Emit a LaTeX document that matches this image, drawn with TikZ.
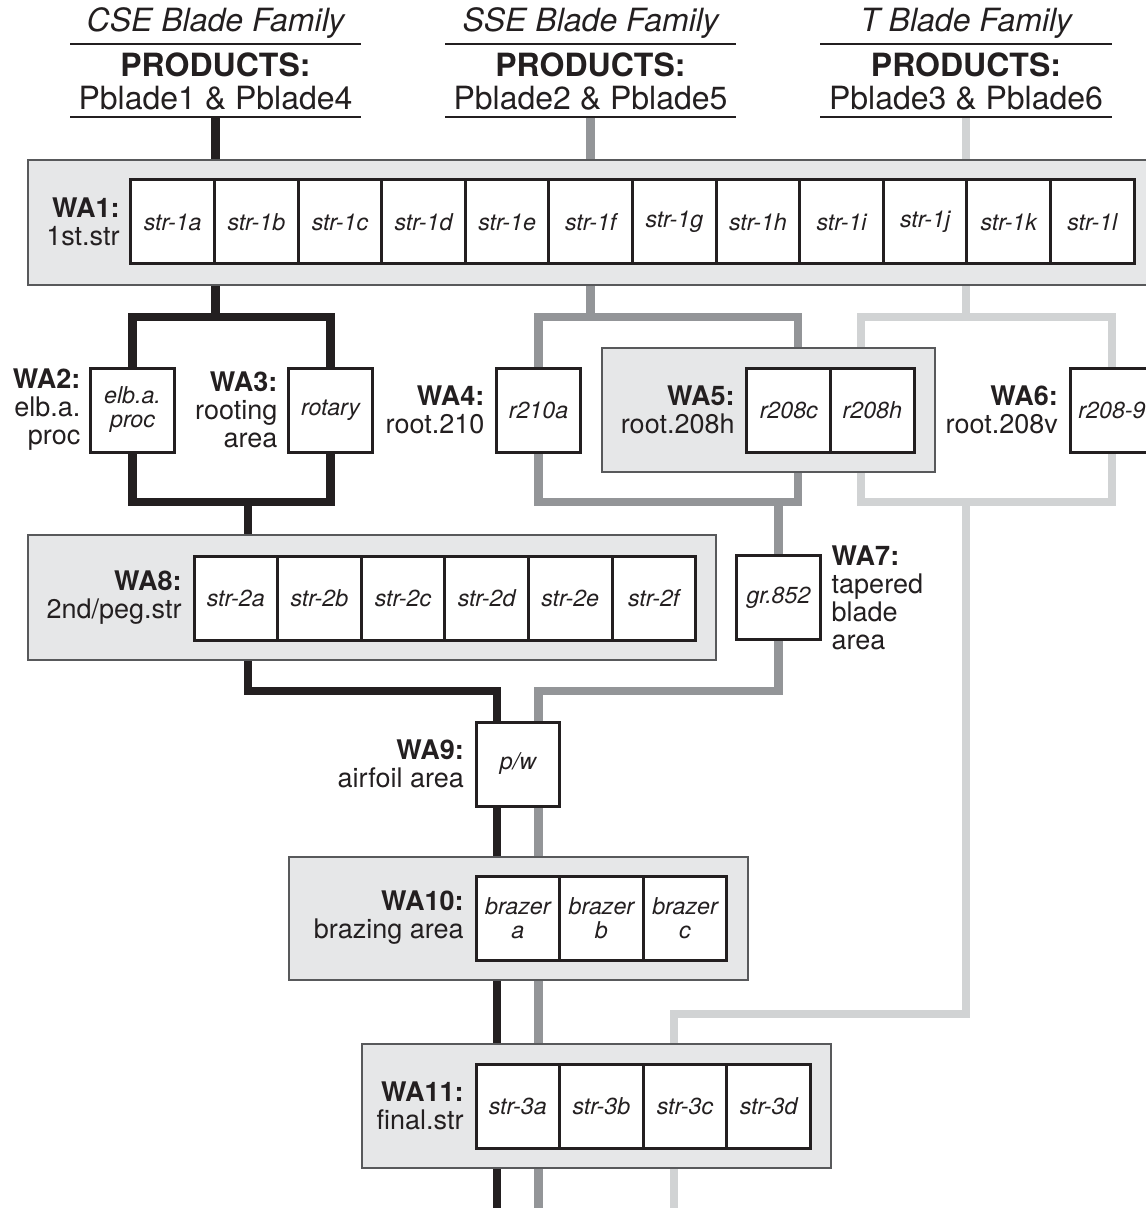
\documentclass[tikz,border=0pt]{standalone}
\usepackage{fontspec}
\setmainfont{TeX Gyre Heros}
\usetikzlibrary{positioning,backgrounds}
\definecolor{inkblk}{HTML}{231F20}
\definecolor{ssegray}{HTML}{939598}
\definecolor{tgray}{HTML}{D1D3D4}
\definecolor{areafill}{HTML}{E6E7E8}
\definecolor{areaedge}{HTML}{58595B}
\tikzset{
  area/.style ={draw=areaedge,fill=areafill,line width=0.6pt,inner sep=0pt},
  cell/.style ={draw=inkblk,fill=white,line width=1.5pt,outer sep=0pt,inner sep=0pt,
                minimum width=41.8pt,minimum height=42pt,align=center,
                font=\fontsize{11.6}{12}\selectfont\itshape},
  wa/.style   ={inner sep=0pt,align=right,font=\fontsize{13.5}{14}\selectfont},
  fam/.style  ={inner sep=0pt,font=\fontsize{16}{16}\selectfont\itshape},
  prod/.style ={inner sep=0pt,font=\fontsize{16}{16}\selectfont},
  rule/.style ={draw=inkblk,line width=0.8pt},
  cse/.style  ={draw=inkblk,line width=4.4pt},
  sse/.style  ={draw=ssegray,line width=4.4pt},
  tbf/.style  ={draw=tgray,line width=4.4pt},
}
\begin{document}
\begin{tikzpicture}[x=0.5pt,y=-0.5pt,text=inkblk]
  \useasboundingbox (0,0) rectangle (1145,1208);
  \node[fam,anchor=base] (fam1) at (215.5,32) {CSE Blade Family};
  \node[prod,anchor=base] (prd1) at (215.5,77) {\textbf{PRODUCTS:}};
  \node[prod,anchor=base] (pbl1) at (215.5,110) {Pblade1 \& Pblade4};
  \node[fam,anchor=base] (fam2) at (590.5,32) {SSE Blade Family};
  \node[prod,anchor=base] (prd2) at (590.5,77) {\textbf{PRODUCTS:}};
  \node[prod,anchor=base] (pbl2) at (590.5,110) {Pblade2 \& Pblade5};
  \node[fam,anchor=base] (fam3) at (966,32) {T Blade Family};
  \node[prod,anchor=base] (prd3) at (966,77) {\textbf{PRODUCTS:}};
  \node[prod,anchor=base] (pbl3) at (966,110) {Pblade3 \& Pblade6};
  \draw[rule] (70,44) -- (361,44); \draw[rule] (70,117) -- (361,117);
  \draw[rule] (445,44) -- (736,44); \draw[rule] (445,117) -- (736,117);
  \draw[rule] (820,44) -- (1112,44); \draw[rule] (820,117) -- (1112,117);

  \node[area,minimum width=568.5pt,minimum height=62.5pt] (wa1) at (596.5,222.5) {};
  \node[cell] (s1a) at (172.75,222) {str-1a}; \node[cell,right=0pt of s1a] (s1b) {str-1b};
  \node[cell,right=0pt of s1b] (s1c) {str-1c}; \node[cell,right=0pt of s1c] (s1d) {str-1d};
  \node[cell,right=0pt of s1d] (s1e) {str-1e}; \node[cell,right=0pt of s1e] (s1f) {str-1f};
  \node[cell,right=0pt of s1f] (s1g) {str-1g}; \node[cell,right=0pt of s1g] (s1h) {str-1h};
  \node[cell,right=0pt of s1h] (s1i) {str-1i}; \node[cell,right=0pt of s1i] (s1j) {str-1j};
  \node[cell,right=0pt of s1j] (s1k) {str-1k}; \node[cell,right=0pt of s1k] (s1l) {str-1l};
  \node[wa,left=5.5pt of s1a] (l1) {\textbf{WA1:}\\1st.str};

  \node[cell] (elb) at (132.5,410) {elb.a.\\proc};
  \node[wa,left=5pt of elb] (l2) {\textbf{WA2:}\\elb.a.\\proc};
  \node[cell] (rot) at (330.5,410) {rotary};
  \node[wa,left=5.5pt of rot] (l3) {\textbf{WA3:}\\rooting\\area};
  \node[cell] (r210) at (538.5,410) {r210a};
  \node[wa,left=6pt of r210] (l4) {\textbf{WA4:}\\root.210};
  \node[area,minimum width=166.5pt,minimum height=62pt] (wa5) at (768.5,410) {};
  \node[cell] (r208c) at (788.75,410) {r208c}; \node[cell,right=0pt of r208c] (r208h) {r208h};
  \node[wa,left=6pt of r208c] (l5) {\textbf{WA5:}\\root.208h};
  \node[cell] (r2089) at (1112,410) {r208-9};
  \node[wa,left=6pt of r2089] (l6) {\textbf{WA6:}\\root.208v};

  \node[area,minimum width=344pt,minimum height=62.5pt] (wa8) at (372,597.5) {};
  \node[cell] (s2a) at (235.8,598) {str-2a}; \node[cell,right=0pt of s2a] (s2b) {str-2b};
  \node[cell,right=0pt of s2b] (s2c) {str-2c}; \node[cell,right=0pt of s2c] (s2d) {str-2d};
  \node[cell,right=0pt of s2d] (s2e) {str-2e}; \node[cell,right=0pt of s2e] (s2f) {str-2f};
  \node[wa,left=6pt of s2a] (l8) {\textbf{WA8:}\\2nd/peg.str};
  \node[cell] (gr) at (778.5,597.5) {gr.852};
  \node[wa,align=left,right=5.5pt of gr] (l7) {\textbf{WA7:}\\tapered\\blade\\area};

  \node[cell] (pw) at (518,764) {p/w};
  \node[wa,left=6pt of pw] (l9) {\textbf{WA9:}\\airfoil area};

  \node[area,minimum width=229.5pt,minimum height=61.5pt] (wa10) at (518.5,918.5) {};
  \node[cell] (bza) at (517.8,918) {brazer\\a}; \node[cell,right=0pt of bza] (bzb) {brazer\\b};
  \node[cell,right=0pt of bzb] (bzc) {brazer\\c};
  \node[wa,left=6pt of bza] (l10) {\textbf{WA10:}\\brazing area};

  \node[area,minimum width=234.5pt,minimum height=62pt] (wa11) at (596.5,1106) {};
  \node[cell] (s3a) at (517.8,1106) {str-3a}; \node[cell,right=0pt of s3a] (s3b) {str-3b};
  \node[cell,right=0pt of s3b] (s3c) {str-3c}; \node[cell,right=0pt of s3c] (s3d) {str-3d};
  \node[wa,left=6pt of s3a] (l11) {\textbf{WA11:}\\final.str};

  \coordinate (top1) at (215.5,117); \coordinate (bk1) at (215.5,317);
  \coordinate (bk2) at (248,502); \coordinate (bk3) at (497,691);
  \coordinate (top2) at (590.5,117); \coordinate (gy1) at (590.5,317); \coordinate (gy2) at (798,502);
  \coordinate (top3) at (966,117); \coordinate (tl1) at (966,317); \coordinate (tl2) at (861,502);
  \coordinate (tl3) at (674,1014); \coordinate (bot) at (0,1208);
  \begin{scope}[on background layer]
    \draw[cse] (top1) -- (bk1);
    \draw[cse] (elb.center |- bk1) rectangle (rot.center |- bk2);
    \draw[cse] (bk2) |- (bk3) -- (bk3 |- bot);
    \draw[sse] (top2) -- (gy1);
    \draw[sse] (r210.center |- gy1) rectangle (gy2);
    \draw[sse] (gr.center |- gy2) |- (r210.center |- bk3) -- (r210.center |- bot);
    \draw[tbf] (top3) -- (tl1);
    \draw[tbf] (tl2 |- tl1) rectangle (r2089.center |- tl2);
    \draw[tbf] (tl1 |- tl2) |- (tl3) -- (tl3 |- bot);
  \end{scope}
\end{tikzpicture}
\end{document}
